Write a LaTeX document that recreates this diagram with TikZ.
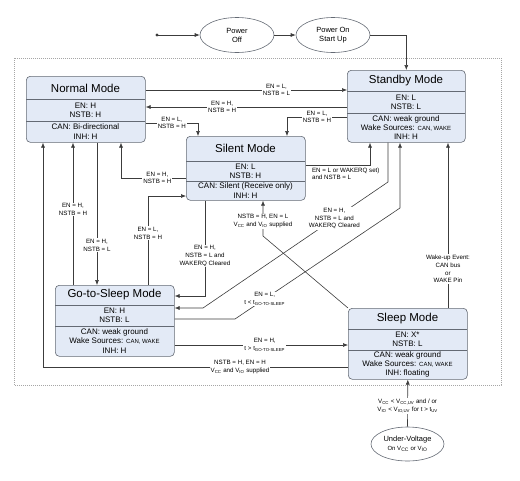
\documentclass[tikz,border=0pt]{standalone}
\usepackage{fontspec}
\setmainfont{Liberation Sans}
\usetikzlibrary{shapes.geometric,arrows.meta}
\definecolor{boxfill}{RGB}{227,234,246}
\definecolor{boxline}{RGB}{100,106,116}
\definecolor{wireline}{RGB}{60,60,60}
\newcommand{\smallcaps}[1]{{\fontsize{6}{7}\selectfont #1}}
\begin{document}
\begin{tikzpicture}[x=1pt,y=-1pt,
    modebox/.style={draw=boxline, fill=boxfill, rounded corners=4pt, line width=0.6pt, anchor=north west, inner sep=0pt},
    sepline/.style={draw=boxline, line width=0.6pt},
    titletext/.style={font=\fontsize{11.5}{13}\selectfont, inner sep=0pt},
    rowtext/.style={font=\fontsize{8}{9.4}\selectfont, align=center, inner sep=0pt},
    wire/.style={draw=wireline, line width=0.6pt, -{Latex[length=5pt,width=4pt]}},
    lbl/.style={font=\fontsize{6.2}{7.6}\selectfont, align=center, fill=white, inner sep=1pt},
    state/.style={draw=boxline, ellipse, line width=0.6pt, font=\fontsize{7.5}{9}\selectfont, align=center, inner sep=0pt}]
    \useasboundingbox (0,0) rectangle (520,480);
    \draw[gray!70, line width=0.6pt, dash pattern=on 0.8pt off 1.2pt] (14,58) rectangle (501,385);

    % power up
    \coordinate (start) at (157,35);
    \fill[wireline] (start) circle (1.6pt);
    \node[state, minimum width=74pt, minimum height=35pt] (poff) at (237,35) {Power\\Off};
    \node[state, minimum width=74pt, minimum height=35pt] (pon) at (333,35) {Power On\\Start Up};
    \node[state, minimum width=73pt, minimum height=34pt] (uv) at (407.5,444) {Under-Voltage\\\smallcaps{On V\textsubscript{CC} or V\textsubscript{IO}}};

    % modes
    \node[modebox, minimum width=119pt, minimum height=66pt] (normal) at (26,76) {};
    \draw[sepline] (26,99) -- (145,99);
    \draw[sepline] (26,121) -- (145,121);
    \node[titletext] (normal-title) at (85.5,88) {Normal Mode};
    \node[rowtext] (normal-pins) at (85.5,110) {EN: H\\NSTB: H};
    \node[rowtext] (normal-bus) at (85.5,131.5) {CAN: Bi-directional\\INH: H};

    \node[modebox, minimum width=118pt, minimum height=72pt] (standby) at (347,70) {};
    \draw[sepline] (347,91) -- (465,91);
    \draw[sepline] (347,113) -- (465,113);
    \node[titletext] (standby-title) at (406,81) {Standby Mode};
    \node[rowtext] (standby-pins) at (406,102) {EN: L\\NSTB: L};
    \node[rowtext] (standby-bus) at (406,127.5) {CAN: weak ground\\Wake Sources: \smallcaps{CAN, WAKE}\\INH: H};

    \node[modebox, minimum width=119pt, minimum height=64pt] (silent) at (186,136) {};
    \draw[sepline] (186,161) -- (305,161);
    \draw[sepline] (186,181) -- (305,181);
    \node[titletext] (silent-title) at (245.5,148.5) {Silent Mode};
    \node[rowtext] (silent-pins) at (245.5,171) {EN: L\\NSTB: H};
    \node[rowtext] (silent-bus) at (245.5,190.5) {CAN: Silent (Receive only)\\INH: H};

    \node[modebox, minimum width=119pt, minimum height=71pt] (gts) at (55,285) {};
    \draw[sepline] (55,305) -- (174,305);
    \draw[sepline] (55,326) -- (174,326);
    \node[titletext] (gts-title) at (114.5,295) {Go-to-Sleep Mode};
    \node[rowtext] (gts-pins) at (114.5,315.5) {EN: H\\NSTB: L};
    \node[rowtext] (gts-bus) at (114.5,341) {CAN: weak ground\\Wake Sources: \smallcaps{CAN, WAKE}\\INH: H};

    \node[modebox, minimum width=119pt, minimum height=71pt] (sleep) at (348,308) {};
    \draw[sepline] (348,329) -- (467,329);
    \draw[sepline] (348,350) -- (467,350);
    \node[titletext] (sleep-title) at (407.5,318.5) {Sleep Mode};
    \node[rowtext] (sleep-pins) at (407.5,339.5) {EN: X*\\NSTB: L};
    \node[rowtext] (sleep-bus) at (407.5,364.5) {CAN: weak ground\\Wake Sources: \smallcaps{CAN, WAKE}\\INH: floating};

    % transitions
    \draw[wire] (start) -- (poff);
    \draw[wire] (poff) -- (pon);
    \draw[wire] (pon.east) -| (standby.north);
    \draw[wire] (normal.east |- 0,90) -- node[lbl, pos=0.65] {EN = L,\\NSTB = L} (standby.west |- 0,90);
    \draw[wire] (standby.west |- 0,107) -- node[lbl, pos=0.62] {EN = H,\\NSTB = H} (normal.east |- 0,107);
    \draw[wire] (normal.east |- 0,123) -| node[lbl, pos=0.25] {EN = L,\\NSTB = H} (198,0 |- silent.north);
    \draw[wire] (standby.west |- 0,117) -| node[lbl, pos=0.25] {EN = L,\\NSTB = H} (287,0 |- silent.north);
    \draw[wire] (silent.west |- 0,178) -| node[lbl, pos=0.22] {EN = H,\\NSTB = H} (121,0 |- normal.south);
    \draw[wire] (148,0 |- gts.north) |- node[lbl, pos=0.29] {EN = L,\\NSTB = H} (silent.west |- 0,196);
    \draw[wire] (silent.east |- 0,165) -| node[lbl, fill=none, anchor=north west, align=left, pos=0.04, yshift=-1.5pt] {EN = L or WAKERQ set)\\and NSTB = L} (370,0 |- standby.south);
    \draw[wire] (205,0 |- silent.south) |- node[lbl, pos=0.29] {EN = H,\\NSTB = L and\\WAKERQ Cleared} (gts.east |- 0,296);
    \draw[wire] (388,0 |- standby.south) -- (388,182) -- node[lbl, pos=0.29] {EN = H,\\NSTB = L and\\WAKERQ Cleared} (203,308) -- (gts.east |- 0,308);
    \draw[wire] (gts.east |- 0,319) -- (235,319) -- node[lbl, pos=0.18] {EN = L,\\t < t\textsubscript{GO-TO-SLEEP}} (400,208) -- (400,0 |- standby.south);
    \draw[wire] (sleep.north west) -- (263,236) -- node[lbl, pos=0.42] {NSTB = H, EN = L\\V\textsubscript{CC} and V\textsubscript{IO} supplied} (263,0 |- silent.south);
    \draw[wire] (97,0 |- normal.south) -- node[lbl, pos=0.72] {EN = H,\\NSTB = L} (97,0 |- gts.north);
    \draw[wire] (73,0 |- gts.north) -- node[lbl, pos=0.53] {EN = H,\\NSTB = H} (73,0 |- normal.south);
    \draw[wire] (sleep.west |- 0,367) -| node[lbl, pos=0.177] {NSTB = H, EN = H\\V\textsubscript{CC} and V\textsubscript{IO} supplied} (43,0 |- normal.south);
    \draw[wire] (gts.east |- 0,345) -- node[lbl, pos=0.52] {EN = H,\\t > t\textsubscript{GO-TO-SLEEP}} (sleep.west |- 0,345);
    \draw[wire] (448,0 |- sleep.north) -- node[lbl, pos=0.235] {Wake-up Event:\\CAN bus\\or\\WAKE Pin} (448,0 |- standby.south);
    \draw[wire] (uv.north) -- node[lbl, pos=0.44] {V\textsubscript{CC} < V\textsubscript{CC,UV} and / or\\V\textsubscript{IO} < V\textsubscript{IO,UV} for t > t\textsubscript{UV}} (sleep.south);
\end{tikzpicture}
\end{document}
